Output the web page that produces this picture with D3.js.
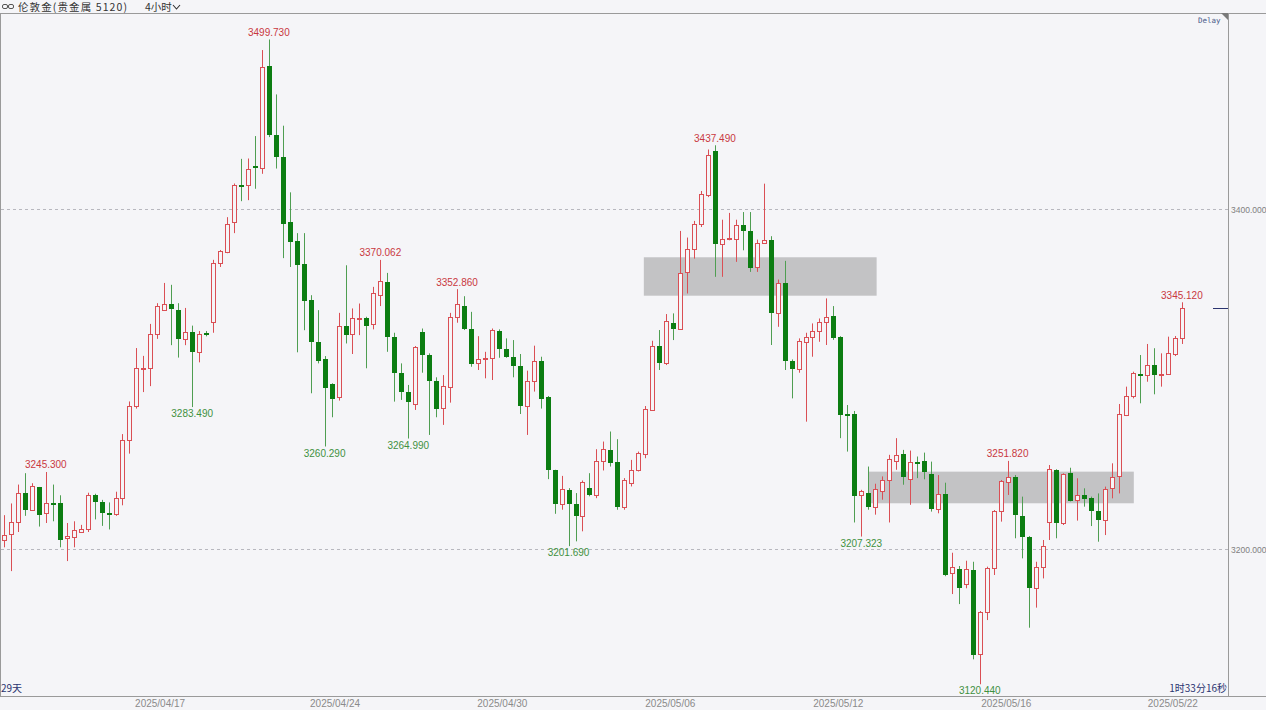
<!DOCTYPE html>
<html><head><meta charset="utf-8">
<script src="https://cdn.jsdelivr.net/npm/d3@7/dist/d3.min.js"></script>
<style>
html,body{margin:0;padding:0;background:#f5f5f8;}
svg{display:block;}
</style></head>
<body><svg id="c" width="1266" height="710"></svg>
<script>
// ---- data (4h candles) ----
const opens = [3205.2,3208.6,3215.7,3233.1,3223.2,3236.2,3221.1,3227.2,3226.8,3206.7,
3207.3,3209.8,3211.7,3231.6,3227.4,3221.3,3220.7,3229.9,3264.4,3283.9,
3306.1,3306.5,3326.6,3340.8,3344.4,3340.4,3323.6,3327.6,3315.7,3327.0,
3333.5,3368.0,3374.7,3392.1,3414.4,3414.4,3425.5,3424.1,3483.9,3443.3,
3430.8,3392.1,3381.0,3367.6,3346.4,3321.5,3311.5,3297.1,3289.6,3331.3,
3326.4,3335.4,3335.6,3332.1,3349.3,3357.1,3324.5,3303.3,3292.2,3285.3,
3327.4,3314.1,3299.0,3282.8,3295.5,3336.6,3342.9,3329.4,3309.2,3311.9,
3312.5,3328.2,3317.4,3313.1,3307.8,3284.1,3299.0,3310.8,3289.2,3246.2,
3226.4,3234.8,3226.6,3219.6,3235.8,3231.9,3251.9,3258.3,3251.1,3224.5,
3238.7,3246.6,3256.0,3281.8,3319.6,3309.6,3333.1,3329.7,3363.0,3376.7,
3391.0,3408.4,3434.1,3379.6,3382.4,3382.6,3390.4,3387.1,3365.9,3380.0,
3381.6,3339.1,3356.2,3310.8,3305.7,3321.9,3324.5,3328.4,3333.3,3337.0,
3324.8,3279.3,3279.3,3231.9,3232.9,3224.7,3234.4,3240.3,3252.0,3256.0,
3241.3,3250.9,3252.0,3243.9,3223.3,3232.2,3185.7,3188.0,3179.4,3187.6,
3138.2,3162.7,3188.6,3222.4,3239.2,3242.6,3219.4,3207.3,3176.9,3189.2,
3216.1,3246.5,3215.1,3244.5,3228.8,3231.8,3229.8,3222.6,3217.1,3235.7,
3242.9,3278.8,3290.0,3303.0,3302.4,3308.2,3302.4,3302.8,3314.7,3323.9];
const highs = [3219.9,3226.8,3237.9,3244.6,3238.7,3236.5,3245.3,3237.9,3231.6,3215.3,
3216.3,3214.2,3233.1,3232.5,3228.9,3227.4,3233.7,3267.6,3286.8,3318.2,
3313.6,3332.4,3344.6,3356.5,3355.4,3344.6,3341.8,3331.4,3328.2,3328.2,
3370.1,3375.9,3395.2,3415.0,3429.5,3429.7,3442.9,3493.5,3499.73,3467.4,
3449.0,3409.8,3385.8,3385.8,3349.3,3340.5,3313.5,3297.5,3338.9,3366.9,
3341.5,3344.4,3336.6,3354.2,3370.062,3362.4,3327.2,3309.2,3296.5,3319.4,
3329.7,3315.1,3301.0,3302.3,3338.9,3352.86,3348.7,3339.5,3325.2,3316.0,
3329.7,3329.2,3323.9,3322.9,3314.7,3304.9,3319.6,3313.1,3290.0,3246.6,
3243.0,3235.8,3232.9,3240.3,3244.6,3258.7,3263.2,3269.1,3264.6,3241.7,
3252.4,3257.3,3284.1,3322.5,3328.8,3338.2,3338.6,3387.1,3383.2,3393.0,
3410.6,3435.0,3437.49,3393.7,3397.7,3393.7,3398.2,3398.2,3382.0,3414.9,
3384.0,3358.5,3369.5,3311.5,3323.9,3327.2,3332.7,3335.6,3347.4,3342.9,
3325.2,3284.7,3281.2,3234.8,3248.5,3238.4,3242.7,3255.4,3265.2,3258.3,
3257.9,3254.4,3256.7,3251.4,3243.5,3239.0,3197.8,3190.0,3193.1,3192.5,
3163.5,3189.6,3222.9,3240.6,3251.82,3243.5,3230.8,3207.6,3192.5,3205.3,
3249.4,3246.9,3244.5,3247.8,3241.6,3235.7,3230.8,3232.7,3236.7,3250.4,
3285.3,3295.5,3304.3,3314.1,3320.6,3318.1,3315.1,3324.9,3325.3,3345.12];
const lows = [3201.0,3187.0,3210.0,3219.5,3222.6,3213.2,3215.3,3216.3,3201.0,3192.9,
3201.0,3209.4,3210.0,3217.4,3213.6,3211.5,3219.5,3225.7,3256.1,3282.6,
3292.3,3295.8,3323.6,3340.0,3319.9,3312.6,3319.9,3283.49,3309.8,3325.1,
3327.2,3365.9,3374.0,3385.8,3404.6,3405.2,3411.9,3420.7,3442.3,3423.8,
3371.1,3365.9,3315.7,3328.7,3291.6,3309.2,3260.29,3277.5,3287.3,3320.9,
3314.7,3325.8,3306.3,3329.2,3342.9,3316.0,3286.7,3287.7,3264.99,3281.8,
3303.7,3267.1,3277.5,3273.0,3286.1,3333.1,3328.8,3307.2,3305.3,3300.4,
3299.4,3312.5,3312.5,3301.0,3279.4,3267.1,3292.6,3282.6,3241.1,3220.7,
3223.1,3201.69,3204.5,3210.4,3231.0,3229.9,3246.2,3248.5,3223.1,3223.1,
3236.8,3245.6,3253.4,3281.4,3305.3,3308.2,3322.9,3329.2,3350.3,3370.8,
3389.4,3407.0,3360.1,3360.1,3381.6,3368.9,3375.7,3363.0,3363.0,3379.6,
3320.0,3330.7,3305.3,3288.6,3303.7,3274.9,3313.1,3321.9,3320.0,3323.0,
3265.2,3257.3,3215.6,3207.323,3223.1,3220.2,3229.0,3215.6,3246.6,3237.8,
3226.0,3241.7,3241.0,3222.0,3221.0,3184.0,3173.5,3167.6,3176.9,3135.1,
3120.44,3158.2,3184.7,3216.1,3231.8,3206.3,3194.5,3153.7,3165.5,3182.7,
3205.3,3206.3,3214.1,3228.0,3216.7,3224.9,3213.5,3204.3,3208.2,3229.8,
3232.7,3278.2,3288.6,3285.7,3298.4,3291.0,3295.5,3302.4,3313.5,3320.6];
const closes = [3208.0,3215.7,3233.1,3223.2,3237.2,3220.1,3227.2,3226.6,3205.2,3207.7,
3211.1,3211.9,3232.0,3227.4,3221.1,3220.7,3229.9,3264.4,3283.9,3306.3,
3306.5,3326.6,3342.9,3343.9,3341.4,3323.6,3327.6,3315.7,3326.6,3326.6,
3368.0,3375.3,3391.4,3414.0,3414.0,3423.8,3424.5,3483.5,3443.3,3430.3,
3391.4,3380.5,3366.9,3346.0,3321.5,3310.8,3294.5,3288.1,3331.3,3326.0,
3336.0,3336.0,3331.3,3350.3,3357.7,3324.5,3303.7,3292.2,3286.7,3318.8,
3314.1,3299.0,3282.4,3296.1,3336.6,3344.4,3329.4,3308.6,3311.9,3312.5,
3328.8,3317.4,3313.1,3307.8,3284.3,3298.8,3310.8,3288.1,3246.2,3226.4,
3235.2,3226.6,3219.6,3239.7,3231.9,3251.9,3258.7,3250.5,3224.7,3240.7,
3246.2,3256.4,3282.4,3319.6,3309.6,3334.2,3329.7,3362.6,3376.3,3391.0,
3409.0,3431.9,3379.3,3382.2,3383.0,3390.6,3387.1,3365.2,3380.0,3382.0,
3338.9,3356.2,3310.6,3305.7,3322.5,3324.5,3328.4,3333.3,3336.6,3323.9,
3278.9,3278.7,3231.3,3233.9,3224.7,3235.4,3240.3,3252.8,3255.4,3242.3,
3251.1,3250.1,3245.5,3223.3,3232.2,3184.7,3189.6,3176.9,3188.0,3137.6,
3162.7,3188.6,3222.4,3240.0,3242.6,3220.0,3207.3,3176.9,3189.2,3202.0,
3246.9,3215.5,3243.9,3228.4,3231.8,3229.2,3222.6,3217.1,3235.3,3242.6,
3279.2,3290.2,3303.7,3302.2,3308.2,3302.4,3302.8,3315.1,3323.9,3341.6];

// marked extremes: candle index, kind, text
const markIndex = [6, 38, 54, 65, 102, 144, 169, 27, 46, 58, 81, 123, 140];
const markKind  = ["high","high","high","high","high","high","high","low","low","low","low","low","low"];
const markText  = ["3245.300","3499.730","3370.062","3352.860","3437.490","3251.820","3345.120",
                   "3283.490","3260.290","3264.990","3201.690","3207.323","3120.440"];

// gray zones (candle index span, price span)
const zoneStart  = [91.8, 124.0];
const zoneEnd    = [125.2, 162.1];
const zoneTop    = [3371.6, 3245.5];
const zoneBottom = [3349.0, 3226.9];

// axes
const priceTicks = [3200, 3400];
const priceTickLabels = ["3200.000", "3400.000"];
const dateTickIndex = [22.4, 47.5, 71.5, 95.6, 119.7, 143.8, 167.7];
const dateTickLabels = ["2025/04/17","2025/04/24","2025/04/30","2025/05/06","2025/05/12","2025/05/16","2025/05/22"];
const lastPrice = 3341.6;

// ---- drawing ----
const W = 1266, H = 710;
const plotRight = 1228, plotTop = 13, plotBottom = 696;
const svg = d3.select("#c");
const x = d3.scaleLinear().domain([0, 169]).range([4, 1181.9]);
const y = d3.scaleLinear().domain([3200, 3400]).range([549, 209]);

const UP = "#da4f55", UPTXT = "#c9383f";
const DN = "#0c7d12", DNWICK = "#4f9e52", DNTXT = "#3f913f";
const BG = "#f5f5f8";

svg.append("rect").attr("width", W).attr("height", H).attr("fill", BG);

// frame
const frame = svg.append("g").attr("stroke", "#9a9a9a").attr("stroke-width", 1).attr("fill", "none");
frame.append("line").attr("x1", 0).attr("x2", W).attr("y1", plotTop + 0.5).attr("y2", plotTop + 0.5);
frame.append("line").attr("x1", 0.5).attr("x2", 0.5).attr("y1", plotTop).attr("y2", plotBottom);
frame.append("line").attr("x1", plotRight + 0.5).attr("x2", plotRight + 0.5).attr("y1", plotTop).attr("y2", plotBottom);
frame.append("line").attr("x1", 0).attr("x2", W).attr("y1", plotBottom + 0.5).attr("y2", plotBottom + 0.5);

// grid + price labels
priceTicks.forEach((p, k) => {
  const yy = Math.round(y(p)) + 0.5;
  svg.append("line").attr("x1", 1).attr("x2", plotRight).attr("y1", yy).attr("y2", yy)
    .attr("stroke", "#b8b8bf").attr("stroke-dasharray", "3,3");
  svg.append("text").attr("x", plotRight + 3).attr("y", yy + 3)
    .attr("font-family", "Liberation Sans, Arial, sans-serif").attr("font-size", 8.5)
    .attr("fill", "#808080").text(priceTickLabels[k]);
});

// zones
zoneStart.forEach((s, k) => {
  svg.append("rect")
    .attr("x", x(s)).attr("width", x(zoneEnd[k]) - x(s))
    .attr("y", y(zoneTop[k])).attr("height", y(zoneBottom[k]) - y(zoneTop[k]))
    .attr("fill", "#c3c3c5");
});

// candles
const g = svg.append("g");
opens.forEach((o, i) => {
  const c = closes[i], h = highs[i], l = lows[i];
  const cx = Math.round(x(i)) + 0.5;
  const up = c >= o;
  const yt = y(Math.max(o, c)), yb = y(Math.min(o, c));
  g.append("line").attr("x1", cx).attr("x2", cx)
    .attr("y1", y(h)).attr("y2", y(l))
    .attr("stroke", up ? UP : DNWICK).attr("stroke-width", 1);
  if (up) {
    const t = Math.round(yt) + 0.5, b = Math.max(Math.round(yb) + 0.5, t + 1);
    g.append("rect").attr("x", cx - 2).attr("width", 4)
      .attr("y", t).attr("height", b - t)
      .attr("fill", BG).attr("stroke", UP).attr("stroke-width", 1);
  } else {
    const t = Math.round(yt), b = Math.max(Math.round(yb), t + 2);
    g.append("rect").attr("x", cx - 2.5).attr("width", 5)
      .attr("y", t).attr("height", b - t)
      .attr("fill", DN);
  }
});

// extreme labels
markIndex.forEach((i, k) => {
  const hi = markKind[k] === "high";
  svg.append("text")
    .attr("x", x(i)).attr("y", hi ? y(highs[i]) - 3.5 : y(lows[i]) + 10)
    .attr("text-anchor", "middle")
    .attr("font-family", "Liberation Sans, Arial, sans-serif").attr("font-size", 10)
    .attr("fill", hi ? UPTXT : DNTXT).text(markText[k]);
});

// last price marker
svg.append("line").attr("x1", plotRight - 15).attr("x2", plotRight)
  .attr("y1", Math.round(y(lastPrice)) + 0.5).attr("y2", Math.round(y(lastPrice)) + 0.5)
  .attr("stroke", "#2b3470").attr("stroke-width", 1);

// date axis
dateTickIndex.forEach((i, k) => {
  svg.append("text").attr("x", x(i)).attr("y", 707).attr("text-anchor", "middle")
    .attr("font-family", "Liberation Sans, Arial, sans-serif").attr("font-size", 10)
    .attr("fill", "#8a8a8a").text(dateTickLabels[k]);
});

// header
const hdr = svg.append("g").attr("font-family", "Noto Sans CJK SC, sans-serif").attr("fill", "#333");
hdr.append("rect").attr("x", 2.5).attr("y", 4.5).attr("width", 5).attr("height", 4).attr("rx", 1.5)
  .attr("fill", "none").attr("stroke", "#555");
hdr.append("rect").attr("x", 8.5).attr("y", 4.5).attr("width", 5).attr("height", 4).attr("rx", 1.5)
  .attr("fill", "none").attr("stroke", "#555");
hdr.append("text").attr("x", 18).attr("y", 11).attr("font-size", 10.5)
  .attr("letter-spacing", 1.1).text("伦敦金(贵金属 5120)");
hdr.append("text").attr("x", 145).attr("y", 11).attr("font-size", 10.5).text("4小时");
hdr.append("path").attr("d", "M173,5 L176.5,9 L180,5").attr("fill", "none").attr("stroke", "#333").attr("stroke-width", 1.1);

// delay badge
svg.append("path").attr("d", `M${plotRight - 7},${plotTop} L${plotRight},${plotTop} L${plotRight},${plotTop + 7} Z`).attr("fill", "#7a7a7a");
svg.append("text").attr("x", plotRight - 30).attr("y", 23)
  .attr("font-family", "DejaVu Sans Mono, monospace").attr("font-size", 7.5)
  .attr("fill", "#4a5a8a").text("Delay");

// corner captions
svg.append("text").attr("x", 1).attr("y", 692).attr("font-family", "Noto Sans CJK SC, sans-serif")
  .attr("font-size", 10).attr("fill", "#2b3470").text("29天");
svg.append("text").attr("x", plotRight - 1).attr("y", 692).attr("text-anchor", "end")
  .attr("font-family", "Noto Sans CJK SC, sans-serif")
  .attr("font-size", 10).attr("fill", "#2b3470").text("1时33分16秒");
</script>
</body></html>
